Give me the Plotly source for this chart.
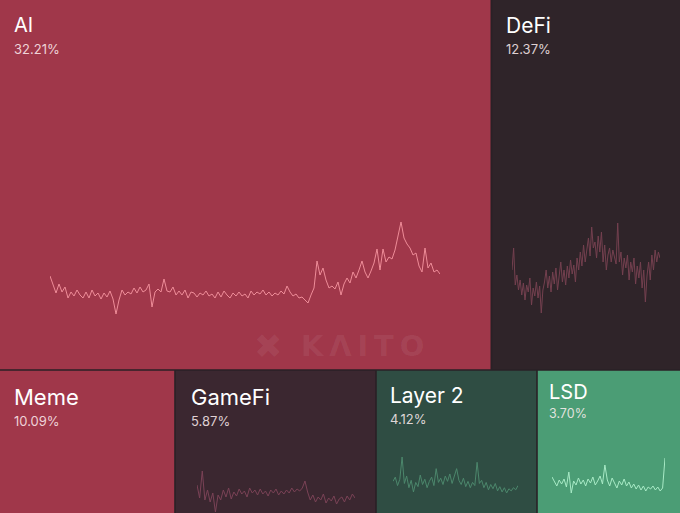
import plotly.graph_objects as go

W, H = 680, 513

# ---------------- data ----------------
categories = ["AI", "DeFi", "Meme", "GameFi", "Layer 2", "LSD"]
shares = [32.21, 12.37, 10.09, 5.87, 4.12, 3.70]

ai_values = [54, 45, 37, 46, 38, 43, 32, 38, 34, 40, 35, 32, 38, 32, 40, 34, 37, 31, 37, 33,
             39, 31, 16, 30, 40, 35, 38, 36, 42, 37, 43, 38, 40, 46, 23, 38, 41, 38, 51, 39,
             38, 43, 35, 39, 35, 40, 32, 38, 37, 33, 37, 35, 39, 34, 36, 32, 38, 33, 39, 35,
             32, 37, 34, 38, 34, 36, 32, 39, 35, 38, 36, 40, 35, 38, 34, 37, 35, 39, 36, 44,
             38, 34, 36, 32, 33, 30, 27, 35, 42, 69, 55, 62, 50, 42, 44, 41, 48, 35, 46, 52,
             47, 58, 52, 60, 69, 58, 52, 59, 67, 81, 60, 81, 68, 73, 71, 80, 94, 108, 92, 86,
             82, 75, 77, 64, 58, 82, 62, 67, 58, 60, 56]

defi_values = [60, 82, 45, 55, 40, 50, 35, 47, 30, 45, 38, 52, 25, 42, 34, 48, 32, 44, 17, 40,
               48, 60, 42, 54, 38, 58, 46, 62, 40, 55, 68, 48, 60, 45, 64, 52, 70, 56, 65, 48,
               72, 60, 78, 64, 85, 68, 80, 92, 74, 103, 82, 88, 72, 94, 78, 98, 68, 85, 60, 75,
               82, 68, 80, 72, 66, 107, 68, 78, 55, 72, 62, 75, 50, 68, 58, 72, 46, 64, 52, 68,
               42, 60, 28, 54, 68, 50, 75, 60, 80, 68, 78, 72]

gamefi_values = [35, 22, 49, 20, 30, 18, 27, 8, 25, 20, 30, 23, 32, 21, 28, 24, 31, 26, 29, 23,
                 32, 27, 30, 25, 31, 26, 29, 24, 30, 27, 31, 25, 29, 26, 30, 27, 32, 28, 31, 29,
                 32, 39, 28, 20, 25, 18, 23, 20, 26, 17, 22, 19, 24, 16, 21, 23, 18, 24, 20, 26,
                 22]

layer2_values = [40, 44, 36, 42, 63, 38, 45, 34, 41, 30, 39, 35, 46, 37, 42, 34, 40, 44, 36, 52,
                 39, 43, 37, 45, 40, 47, 38, 44, 52, 41, 37, 43, 35, 40, 34, 39, 36, 58, 38, 41,
                 34, 39, 32, 37, 33, 38, 31, 35, 30, 34, 29, 33, 31, 34, 32, 36]

lsd_values = [43, 38, 34, 40, 36, 41, 33, 48, 27, 39, 35, 42, 36, 40, 34, 41, 37, 43, 35, 39,
              44, 36, 55, 40, 34, 42, 37, 32, 39, 35, 41, 34, 38, 32, 36, 31, 35, 30, 34, 29,
              33, 31, 34, 30, 33, 29, 32, 62]

series = [ai_values, defi_values, gamefi_values, layer2_values, lsd_values]
series_names = ["AI", "DeFi", "GameFi", "Layer 2", "LSD"]

# ---------------- layout / style (pixels) ----------------
TOP_H = 370
ai_w = W * shares[0] / (shares[0] + shares[1])
bottom_widths = [175, 201, 161, 143]

cells = {
    "AI": (0, 0, ai_w, TOP_H),
    "DeFi": (ai_w, 0, W, TOP_H),
}
x = 0
for name, w in zip(categories[2:], bottom_widths):
    cells[name] = (x, TOP_H, x + w, H)
    x += w

cell_colors = {
    "AI": "#a0374a", "DeFi": "#2f2429", "Meme": "#a0374a",
    "GameFi": "#3b2730", "Layer 2": "#2f4d43", "LSD": "#4b9d75",
}
line_colors = {
    "AI": "#ee8c98", "DeFi": "#74404f", "GameFi": "#7a4256",
    "Layer 2": "#4c876c", "LSD": "#a8eac6",
}
# text: (x offset, label y offset, pct y offset, label size, pct size)
text_style = {
    "AI": (12, 25, 49, 20, 13),
    "DeFi": (13, 25, 49, 21, 13),
    "Meme": (12, 27, 51, 22, 13),
    "GameFi": (14, 27, 51, 22, 13),
    "Layer 2": (12, 25, 49, 21, 13),
    "LSD": (10, 22, 43, 20, 12.5),
}
# sparkline boxes (px): x0, x1, y_top, y_bottom
spark_boxes = {
    "AI": (50, 440, 222, 314),
    "DeFi": (512, 660, 223, 313),
    "GameFi": (197, 355, 471, 512),
    "Layer 2": (393, 518, 457, 493),
    "LSD": (552, 665, 458, 493),
}


def px(xp):
    return xp / W


def py(yp):
    return 1 - yp / H


fig = go.Figure()
GAP = 0.8
shapes = []
for name in categories:
    x0, y0, x1, y1 = cells[name]
    shapes.append(dict(
        type="rect", xref="paper", yref="paper",
        x0=px(x0 + (GAP if x0 > 0 else 0)), x1=px(x1 - (GAP if x1 < W else 0)),
        y0=py(y1 - (GAP if y1 < H else 0)), y1=py(y0 + (GAP if y0 > 0 else 0)),
        fillcolor=cell_colors[name], line=dict(width=0), layer="below",
    ))

annotations = []
for name, share in zip(categories, shares):
    x0, y0, _, _ = cells[name]
    dx, ly, pyo, ls, ps = text_style[name]
    annotations.append(dict(
        xref="paper", yref="paper", x=px(x0 + dx), y=py(y0 + ly),
        xanchor="left", yanchor="middle", showarrow=False, text=name,
        font=dict(family="Inter", size=ls, color="#ffffff"),
    ))
    annotations.append(dict(
        xref="paper", yref="paper", x=px(x0 + dx), y=py(y0 + pyo),
        xanchor="left", yanchor="middle", showarrow=False, text=f"{share:.2f}%",
        font=dict(family="Inter", size=ps, color="rgba(255,240,242,0.85)"),
    ))

# watermark
annotations.append(dict(
    xref="paper", yref="paper", x=px(268), y=py(346), xanchor="center", yanchor="middle",
    showarrow=False, text="✖", font=dict(family="DejaVu Sans", size=34,
                                          color="rgba(255,255,255,0.07)"),
))
annotations.append(dict(
    xref="paper", yref="paper", x=px(362), y=py(346), xanchor="center", yanchor="middle",
    showarrow=False, text="K\u2009Λ\u2009I\u2009T\u2009O",
    font=dict(family="DejaVu Sans", size=29, weight="bold", color="rgba(255,255,255,0.07)"),
))

layout_axes = {}
for i, (name, vals) in enumerate(zip(series_names, series), start=1):
    sx0, sx1, syt, syb = spark_boxes[name]
    xa = "x" if i == 1 else f"x{i}"
    ya = "y" if i == 1 else f"y{i}"
    fig.add_trace(go.Scatter(
        x=list(range(len(vals))), y=vals, mode="lines", xaxis=xa, yaxis=ya,
        line=dict(color=line_colors[name], width=1), hoverinfo="skip", showlegend=False,
    ))
    key = "" if i == 1 else str(i)
    layout_axes[f"xaxis{key}"] = dict(
        domain=[px(sx0), px(sx1)], range=[0, len(vals) - 1], visible=False,
        anchor=ya, fixedrange=True,
    )
    layout_axes[f"yaxis{key}"] = dict(
        domain=[py(syb), py(syt)], range=[min(vals), max(vals)], visible=False,
        anchor=xa, fixedrange=True,
    )

fig.update_layout(
    width=W, height=H, margin=dict(l=0, r=0, t=0, b=0),
    paper_bgcolor="#2a2126", plot_bgcolor="rgba(0,0,0,0)",
    shapes=shapes, annotations=annotations, showlegend=False,
    **layout_axes,
)

fig.write_html(
    "out.html",
    config={"displayModeBar": False},
    post_script="document.body.style.margin='0';document.body.style.padding='0';",
)
